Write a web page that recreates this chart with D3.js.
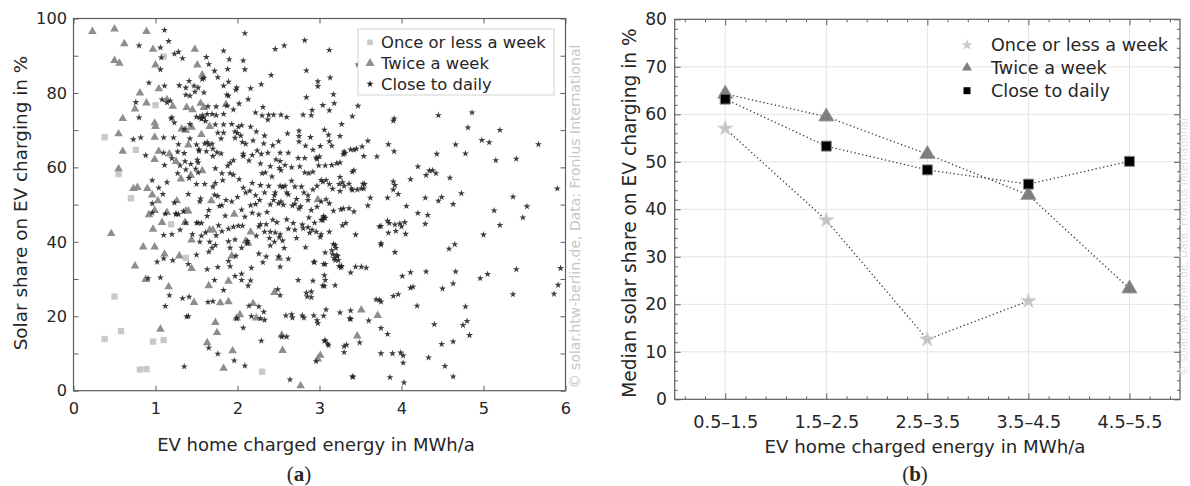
<!DOCTYPE html>
<html>
<head>
<meta charset="utf-8">
<script src="https://cdn.jsdelivr.net/npm/d3@7"></script>
<style>
  html, body { margin: 0; padding: 0; background: #fff; }
  svg { display: block; }
  text { font-family: "DejaVu Sans", Verdana, sans-serif; fill: #262626; }
</style>
</head>
<body>
<svg id="fig" width="1190" height="486"></svg>
<script>
// ---------- (a) individual households: energy [MWh/a], solar share [%] ----------
const onceOrLess = [
  [0.38,68.1],[0.76,64.7],[0.55,58.2],[0.70,51.7],[1.10,89.8],[1.00,76.7],[1.19,44.7],[1.37,35.7],
  [0.50,25.3],[0.58,16.0],[0.38,13.9],[0.97,13.2],[1.10,13.6],[0.81,5.7],[0.89,5.8],[2.30,5.1]
];

const twiceAWeek = [
  [0.23,96.5],[0.50,97.2],[0.89,96.5],[0.62,93.2],[0.50,88.7],[0.56,88.0],[0.97,91.7],[1.00,87.5],
  [1.04,81.1],[0.81,80.0],[0.75,75.7],[0.89,77.3],[0.60,73.1],[1.14,78.2],[1.21,76.4],[1.48,91.7],
  [1.51,87.5],[1.57,84.8],[1.38,76.1],[1.45,75.5],[1.55,77.2],[1.59,76.1],[1.86,76.9],[0.99,71.9],
  [1.00,71.0],[0.55,69.0],[0.99,68.1],[1.32,70.3],[1.37,70.0],[1.44,70.8],[1.66,71.0],[1.56,68.8],
  [1.40,66.0],[1.04,64.3],[1.17,63.6],[0.60,64.3],[0.99,62.1],[1.25,61.6],[0.55,59.6],[1.31,56.9],
  [1.43,57.9],[1.57,59.1],[0.73,54.3],[0.78,54.6],[0.90,54.3],[0.96,52.6],[1.03,51.0],[1.26,51.0],
  [1.68,51.0],[2.98,51.3],[0.46,42.2],[0.97,43.4],[0.92,47.3],[0.99,48.4],[1.08,45.2],[1.14,47.9],
  [1.36,45.2],[1.37,48.3],[1.40,48.3],[1.44,40.5],[1.66,43.2],[1.70,43.2],[1.96,47.4],[2.10,40.2],
  [2.16,42.6],[1.93,36.2],[1.29,36.2],[1.11,36.7],[0.85,38.6],[0.99,38.6],[0.75,33.5],[1.44,32.8],
  [1.65,28.2],[0.88,29.9],[1.16,27.9],[1.89,29.4],[1.47,23.7],[1.79,23.6],[1.89,23.9],[2.19,23.4],
  [2.45,26.4],[1.99,19.5],[2.03,20.4],[2.23,19.5],[3.51,21.7],[3.71,20.2],[1.73,18.3],[1.75,15.6],
  [1.06,16.5],[1.63,12.9],[1.94,10.7],[2.54,14.9],[2.55,10.8],[3.46,14.7],[3.01,9.5],[2.98,8.5],
  [1.83,6.0],[2.77,1.3],[2.51,35.6],[2.13,39.6]
];

const closeToDaily = [
  // above 80 %
  [1.11,96.9],[2.09,96.0],[2.82,94.1],[1.16,93.9],[0.80,92.7],[1.06,92.2],[1.23,90.5],[1.28,91.0],
  [1.33,89.3],[1.07,89.5],[1.06,86.3],[1.62,89.6],[1.65,87.7],[1.72,85.9],[1.76,84.2],[1.83,91.3],
  [1.90,89.0],[1.88,86.4],[2.07,88.7],[2.09,86.3],[0.92,82.7],[1.11,81.9],[1.29,82.0],[1.41,83.2],
  [1.37,81.4],[1.47,81.9],[1.57,83.7],[1.59,84.0],[1.52,81.4],[1.59,80.1],[1.48,80.3],[1.83,81.9],
  [1.89,83.0],[1.99,81.4],[1.98,80.8],[2.16,81.2],[2.29,82.3],[2.41,84.8],[2.57,92.7],[2.46,91.8],
  [2.84,86.0],[3.12,91.5],[2.98,83.1],[2.98,81.8],[3.13,84.1],[3.17,79.6],[3.47,87.6],
  // 70 - 80 %
  [1.37,79.5],[1.42,79.2],[1.89,79.2],[1.87,79.5],[2.13,78.3],[2.84,78.8],[0.76,77.5],[0.80,73.4],
  [1.08,78.2],[1.14,77.4],[1.18,77.9],[1.20,73.4],[1.19,73.1],[1.23,72.0],[1.54,73.4],[1.57,74.0],
  [1.59,73.4],[1.56,73.0],[1.63,74.3],[1.69,74.3],[1.74,74.0],[1.83,74.3],[1.73,71.5],[1.83,71.5],
  [1.64,76.4],[1.74,76.3],[1.87,76.5],[1.95,75.5],[2.02,77.1],[2.22,74.7],[2.30,73.9],[2.31,76.2],
  [2.38,74.1],[2.44,74.1],[2.53,74.1],[2.90,74.0],[3.04,76.7],[3.12,75.3],[3.18,77.2],[3.27,71.6],
  [3.40,73.7],[3.47,76.5],[1.35,70.2],[1.42,71.6],[2.16,70.9],[2.80,74.1],[2.91,75.4],[3.91,73.1],
  [3.90,72.5],[4.45,74.0],[4.86,74.7],[4.81,70.7],[5.20,70.0],[2.05,71.3],[2.01,70.9],[1.93,71.6],
  [1.61,72.4],[1.50,73.6],[2.60,73.5],[2.37,72.8],
  // 60 - 70 %
  [0.73,67.5],[0.82,68.0],[0.88,63.2],[1.10,68.0],[1.10,63.9],[1.11,60.6],[1.76,69.3],[1.83,69.3],
  [1.50,66.1],[1.60,66.4],[1.63,66.7],[1.65,66.1],[1.53,64.8],[1.53,64.4],[1.62,64.3],[1.28,66.2],
  [1.35,63.8],[1.36,61.6],[1.51,62.0],[1.52,61.3],[1.43,60.9],[1.69,66.3],[1.70,65.0],[1.70,63.0],
  [1.75,64.0],[1.80,63.7],[1.88,60.4],[1.91,61.2],[1.95,61.9],[1.97,69.6],[2.00,69.2],[1.97,67.9],
  [2.04,68.5],[2.06,66.8],[2.10,66.3],[2.19,67.2],[2.07,63.6],[2.07,63.0],[2.18,63.3],[2.24,64.5],
  [2.29,63.6],[2.23,69.6],[2.32,66.4],[2.43,65.9],[2.37,63.9],[2.52,63.9],[2.47,62.1],[2.52,61.7],
  [2.62,63.9],[2.74,62.5],[2.82,62.5],[2.96,62.6],[2.61,69.1],[2.75,69.8],[2.75,68.4],[2.75,66.9],
  [2.83,65.8],[3.11,68.7],[3.25,68.4],[3.12,67.0],[3.30,64.2],[3.31,63.8],[3.38,64.8],[3.42,64.7],
  [3.00,62.9],[2.97,62.2],[3.25,61.3],[3.06,70.1],[3.15,65.8],[3.01,65.7],[3.29,63.5],[3.45,65.0],
  [3.52,65.6],[3.59,67.1],[3.54,63.0],[3.70,62.9],[3.84,66.2],[3.91,64.3],[4.66,66.1],[4.98,67.3],
  [5.07,66.7],[5.67,66.2],[4.43,63.6],[4.78,63.7],[5.15,61.9],[5.40,62.3],[2.99,60.5],[3.07,60.5],
  [3.15,60.6],[3.21,61.1],[1.27,64.2],[1.20,62.4],[1.22,68.0],[2.14,61.8],[2.28,61.0],[2.40,60.3],
  [2.58,60.6],[1.80,67.7],[2.33,68.5],[2.50,67.0],[1.42,67.7],[2.89,68.1],[2.92,64.7],
  // 50 - 60 %
  [1.27,58.4],[1.30,60.5],[1.37,59.4],[1.41,57.1],[1.49,59.6],[1.52,58.6],[1.73,59.7],[1.81,58.4],
  [1.91,58.4],[2.34,58.6],[2.30,58.4],[2.51,59.8],[2.53,59.2],[2.66,60.0],[2.76,60.2],[2.87,58.4],
  [2.92,58.8],[2.82,58.6],[3.25,57.4],[3.40,58.8],[3.42,59.2],[3.02,56.6],[3.04,56.1],[3.08,56.6],
  [3.24,55.5],[3.28,56.0],[3.36,55.6],[3.39,54.3],[3.40,53.9],[3.53,55.6],[3.55,55.5],[3.51,54.3],
  [3.54,54.3],[3.90,56.2],[3.92,55.2],[3.90,54.0],[3.83,51.8],[3.96,52.8],[4.11,56.8],[4.20,60.2],
  [4.30,57.9],[4.34,59.1],[4.38,59.2],[4.42,58.4],[4.59,57.2],[4.73,53.0],[5.36,52.1],[5.90,54.3],
  [4.29,51.8],[4.45,51.0],[4.49,52.0],[4.63,50.1],[3.25,53.6],[3.62,51.8],[3.59,49.7],[1.09,52.8],
  [1.40,52.8],[1.23,50.5],[0.96,56.5],[1.14,56.0],[1.04,54.5],[1.60,55.5],[1.70,54.8],[1.72,52.6],
  [1.73,55.8],[1.76,52.3],[1.82,56.5],[1.95,58.0],[2.02,56.8],[2.07,54.5],[2.10,53.2],[2.15,53.7],
  [2.22,52.5],[2.18,55.8],[2.28,55.2],[2.38,55.0],[2.42,57.5],[2.46,53.2],[2.52,55.0],[2.55,54.7],
  [2.58,55.0],[2.60,53.2],[2.66,56.4],[2.70,54.8],[2.78,54.8],[2.81,53.2],[2.86,52.5],[2.92,54.0],
  [2.97,55.0],[3.12,55.5],[3.16,54.2],[3.30,55.0],[3.46,54.0],[2.62,52.7],[2.72,51.5],[2.33,53.2],
  [1.50,55.5],[1.55,51.6],[1.86,51.2],[1.93,50.8],[2.00,52.0],[2.44,51.2],[2.50,50.3],[2.67,49.7],
  [2.70,50.2],[2.86,51.2],[3.02,50.8],[3.08,51.4],[3.12,50.3],[2.22,50.1],[2.27,51.2],[2.40,50.0],
  [2.45,52.5],[2.53,50.8],[2.56,49.9],[1.54,50.8],[2.16,49.8],[1.78,49.6],[1.81,49.8],
  // 40 - 50 %
  [0.96,50.3],[0.96,47.8],[1.12,47.5],[1.25,47.6],[1.25,47.4],[1.28,47.4],[1.50,45.1],[1.52,45.1],
  [1.56,45.0],[1.63,46.9],[1.77,44.4],[1.74,41.7],[1.37,45.1],[1.30,43.2],[1.56,41.6],[1.61,42.5],
  [1.54,40.0],[1.66,40.0],[1.73,39.1],[1.81,42.8],[1.89,43.5],[1.95,44.0],[1.89,40.1],[2.09,46.7],
  [2.06,44.3],[2.01,44.3],[2.23,41.6],[1.97,40.6],[2.12,40.2],[2.12,39.6],[2.26,44.1],[2.28,44.7],
  [2.35,44.7],[2.33,42.7],[2.40,42.7],[2.43,45.9],[2.48,45.2],[2.46,42.5],[2.52,42.0],[2.51,41.2],
  [2.68,45.0],[2.79,44.6],[2.88,42.4],[2.96,42.7],[2.87,46.5],[2.90,48.5],[2.97,49.4],[2.75,48.9],
  [2.77,49.5],[3.26,48.7],[3.29,48.9],[3.36,49.0],[3.04,45.8],[3.07,46.4],[3.05,46.9],[3.01,41.3],
  [2.94,45.1],[3.12,42.7],[3.44,41.9],[3.42,48.1],[3.73,44.1],[3.75,44.2],[3.83,45.6],[3.85,45.0],
  [3.84,42.4],[3.92,44.6],[3.98,44.9],[4.00,44.1],[3.93,42.9],[4.04,45.2],[4.06,49.6],[4.05,42.1],
  [4.20,47.7],[4.32,47.2],[4.29,44.8],[5.00,41.9],[5.13,48.4],[5.20,44.5],[5.48,46.5],[5.53,49.5],
  [2.80,43.6],[2.86,43.9],[2.91,43.2],[3.02,45.9],[3.05,46.5],[3.02,42.0],[3.28,44.4],[3.32,45.0],
  [1.45,42.0],[1.20,42.0],[1.10,41.8],[1.34,48.2],[2.18,47.8],[2.26,47.3],[2.36,48.0],[2.60,46.0],
  [2.62,43.5],[2.70,43.2],[2.55,40.3],[2.45,40.0],[2.39,41.0],[1.85,47.0],[1.65,48.5],[2.05,48.6],
  [3.17,48.3],[2.72,41.0],
  // 30 - 40 %
  [0.91,30.2],[1.02,34.6],[1.10,35.5],[1.06,30.4],[1.65,37.3],[1.69,38.4],[1.63,32.6],[1.72,29.7],
  [1.76,33.2],[1.83,27.0],[1.89,34.8],[1.91,33.4],[1.91,38.4],[2.05,38.4],[2.05,31.4],[2.05,29.7],
  [1.97,30.8],[2.13,28.2],[2.16,29.6],[2.31,34.5],[2.35,36.0],[2.26,36.8],[2.50,36.0],[2.52,33.3],
  [2.62,35.4],[2.83,38.5],[3.05,34.0],[2.94,34.6],[2.74,29.7],[3.17,39.4],[3.20,38.3],[3.21,36.4],
  [3.22,36.1],[3.23,35.0],[3.27,33.5],[3.44,33.3],[3.06,31.0],[3.75,39.6],[3.75,39.2],[3.92,37.2],
  [4.01,30.8],[4.58,38.1],[4.65,39.3],[4.96,30.2],[5.05,31.3],[5.40,32.6],[5.94,32.9],[2.92,29.5],
  [3.07,29.7],[3.04,28.2],[3.19,28.3],[3.38,31.7],[3.51,33.3],[3.57,33.0],[2.93,34.5],[3.07,34.0],
  [3.07,37.1],[3.15,37.7],[3.16,36.6],[3.18,35.6],[3.19,35.1],[3.24,33.5],[3.26,33.1],[3.19,39.1],
  [1.50,36.5],[1.40,34.0],[2.40,39.0],[2.57,38.3],[1.21,35.0],[4.11,31.8],[4.30,32.0],[4.66,32.0],
  [1.98,36.2],[2.17,33.0],
  // 20 - 30 %
  [1.12,22.7],[1.17,25.6],[1.33,24.8],[1.41,25.2],[1.64,23.8],[2.52,25.6],[2.49,27.2],[2.84,26.3],
  [2.90,25.1],[3.06,28.1],[2.85,25.3],[2.90,26.6],[3.69,24.5],[3.73,24.4],[3.75,23.9],[3.90,25.4],
  [3.96,25.9],[4.19,22.8],[4.11,27.6],[4.14,27.9],[4.78,22.6],[5.36,25.9],[5.86,26.0],[5.91,28.4],
  [4.63,28.8],[4.50,27.4],[1.38,19.9],[2.17,20.0],[2.28,19.4],[2.33,19.0],[2.26,22.6],[2.59,20.2],
  [2.67,19.6],[2.81,19.6],[2.93,20.2],[3.05,20.1],[3.08,21.8],[3.25,21.0],[2.79,20.2],[1.99,19.4],
  [1.70,24.0],[2.32,21.2],[3.38,21.5],[2.14,22.8],
  // below 20 %
  [1.65,11.5],[1.76,9.9],[1.35,6.5],[1.96,8.1],[2.07,16.9],[2.09,6.7],[2.29,13.4],[2.60,14.5],
  [2.64,3.0],[2.96,7.9],[2.97,18.9],[2.98,18.1],[3.10,12.6],[3.07,13.5],[3.40,3.8],[3.30,11.9],
  [3.33,12.3],[3.37,19.4],[3.38,19.2],[3.30,10.3],[3.49,12.9],[3.60,18.8],[3.75,16.8],[3.83,15.2],
  [3.99,10.2],[4.02,9.4],[4.02,7.5],[4.03,2.2],[3.89,10.0],[3.75,10.0],[3.86,3.6],[3.41,3.7],
  [4.49,12.5],[4.63,13.2],[4.40,17.8],[4.75,17.6],[4.80,18.7],[4.83,14.9],[4.33,8.9],[4.53,6.6],
  [4.63,3.8],[2.66,20.5],[3.06,13.4],[3.11,12.2],[2.54,14.5],[1.40,20.0]
];

// ---------- (b) medians per energy bin ----------
const energyBins = ["0.5–1.5", "1.5–2.5", "2.5–3.5", "3.5–4.5", "4.5–5.5"];
const medianOnce  = [57.0, 37.7, 12.6, 20.7];
const medianTwice = [64.3, 59.5, 51.6, 43.0, 23.3];
const medianDaily = [63.2, 53.3, 48.3, 45.3, 50.1];

const seriesNames = ["Once or less a week", "Twice a week", "Close to daily"];
const xTicksA = [0, 1, 2, 3, 4, 5, 6];
const yTicksA = d3.range(0, 101, 10);
const yTicksB = d3.range(0, 81, 10);

const svg = d3.select("#fig");
const frameColor = "#5e5e5e";
const textColor = "#262626";

function styleAxis(g) {
  g.select(".domain").remove();
  g.selectAll(".tick line").attr("stroke", frameColor).attr("stroke-width", 1);
  g.selectAll(".tick text").attr("fill", textColor);
  g.attr("font-family", null);
}

// ======================= panel (a) =======================
const xA = d3.scaleLinear().domain([0, 6]).range([73.5, 565.5]);
const yA = d3.scaleLinear().domain([0, 100]).range([390.7, 18.5]);
const pa = svg.append("g");

pa.append("g").attr("transform", `translate(0,${yA(0)})`)
  .call(d3.axisBottom(xA).tickValues(xTicksA).tickSize(-5).tickPadding(11.5).tickFormat(d3.format("d")))
  .call(styleAxis).attr("font-size", 16.2);
pa.append("g").attr("transform", `translate(0,${yA(100)})`)
  .call(d3.axisTop(xA).tickValues(xTicksA).tickSize(-5).tickFormat(""))
  .call(styleAxis);
pa.append("g").attr("transform", `translate(${xA(0)},0)`)
  .call(d3.axisLeft(yA).tickValues(yTicksA).tickSize(-5).tickPadding(6.5)
    .tickFormat(d => d % 20 === 0 ? d : ""))
  .call(styleAxis).attr("font-size", 16.2);
pa.append("g").attr("transform", `translate(${xA(6)},0)`)
  .call(d3.axisRight(yA).tickValues(yTicksA).tickSize(-5).tickFormat(""))
  .call(styleAxis);

pa.append("rect")
  .attr("x", xA(0)).attr("y", yA(100))
  .attr("width", xA(6) - xA(0)).attr("height", yA(0) - yA(100))
  .attr("fill", "none").attr("stroke", frameColor).attr("stroke-width", 1.2);

const symSquareA = d3.symbol().type(d3.symbolSquare).size(40);
const symTriA = d3.symbol().type(d3.symbolTriangle).size(32);
const symStarA = d3.symbol().type(d3.symbolStar).size(15);

pa.append("g").selectAll("path").data(onceOrLess).join("path")
  .attr("d", symSquareA)
  .attr("transform", d => `translate(${xA(d[0])},${yA(d[1])})`)
  .attr("fill", "#c9c9c9");
pa.append("g").selectAll("path").data(twiceAWeek).join("path")
  .attr("d", symTriA)
  .attr("transform", d => `translate(${xA(d[0])},${yA(d[1])})`)
  .attr("fill", "#8e8e8e");
pa.append("g").selectAll("path").data(closeToDaily).join("path")
  .attr("d", symStarA)
  .attr("transform", d => `translate(${xA(d[0])},${yA(d[1])})`)
  .attr("fill", "#1c1c1c").attr("fill-opacity", 0.85);

// legend (a)
const legA = pa.append("g");
legA.append("rect").attr("x", 358).attr("y", 29).attr("width", 196).attr("height", 66)
  .attr("fill", "#fff").attr("stroke", "#d2d2d2").attr("stroke-width", 1);
const legARows = [42.3, 63.3, 84];
const legASyms = [
  d3.symbol().type(d3.symbolSquare).size(32)(),
  d3.symbol().type(d3.symbolTriangle).size(36)(),
  d3.symbol().type(d3.symbolStar).size(15)()
];
const legAFill = ["#c9c9c9", "#8e8e8e", "#1c1c1c"];
seriesNames.forEach((name, i) => {
  legA.append("path").attr("d", legASyms[i])
    .attr("transform", `translate(370,${legARows[i]})`).attr("fill", legAFill[i]);
  legA.append("text").attr("x", 381).attr("y", legARows[i]).attr("dy", "0.36em")
    .attr("font-size", 16.4).text(name);
});

// axis titles (a)
pa.append("text").attr("x", 316).attr("y", 445).attr("dy", "0.36em")
  .attr("text-anchor", "middle").attr("font-size", 18).text("EV home charged energy in MWh/a");
pa.append("text").attr("transform", "translate(20,203) rotate(-90)").attr("dy", "0.36em")
  .attr("text-anchor", "middle").attr("font-size", 18.4).text("Solar share on EV charging in %");
pa.append("text").attr("transform", "translate(575,216.5) rotate(-90)").attr("dy", "0.36em")
  .attr("text-anchor", "middle").attr("font-size", 14).style("fill", "#c6c6c6")
  .text("© solar.htw-berlin.de, Data: Fronius International");

// ======================= panel (b) =======================
const xB = d3.scaleLinear().domain([0.5, 5.5]).range([674.7, 1180]);
const yB = d3.scaleLinear().domain([0, 80]).range([399.3, 19.3]);
const pb = svg.append("g");
const catPos = energyBins.map((_, i) => i + 1);
const xMinorB = d3.range(0.6, 5.5, 0.2).filter(v => Math.abs(v - Math.round(v)) > 0.05);
const yMinorB = d3.range(0, 81, 2).filter(v => v % 10 !== 0);

// grid
pb.append("g").selectAll("line").data(yTicksB.filter(v => v > 0 && v < 80)).join("line")
  .attr("x1", xB(0.5)).attr("x2", xB(5.5)).attr("y1", d => yB(d)).attr("y2", d => yB(d))
  .attr("stroke", "#e4e4e4").attr("stroke-width", 1);
pb.append("g").selectAll("line").data(catPos).join("line")
  .attr("x1", d => xB(d)).attr("x2", d => xB(d)).attr("y1", yB(0)).attr("y2", yB(80))
  .attr("stroke", "#e4e4e4").attr("stroke-width", 1);

// minor ticks, all four sides
pb.append("g").attr("transform", `translate(0,${yB(0)})`)
  .call(d3.axisBottom(xB).tickValues(xMinorB).tickSize(-3).tickFormat("")).call(styleAxis);
pb.append("g").attr("transform", `translate(0,${yB(80)})`)
  .call(d3.axisTop(xB).tickValues(xMinorB).tickSize(-3).tickFormat("")).call(styleAxis);
pb.append("g").attr("transform", `translate(${xB(0.5)},0)`)
  .call(d3.axisLeft(yB).tickValues(yMinorB).tickSize(-3).tickFormat("")).call(styleAxis);
pb.append("g").attr("transform", `translate(${xB(5.5)},0)`)
  .call(d3.axisRight(yB).tickValues(yMinorB).tickSize(-3).tickFormat("")).call(styleAxis);

// major ticks and labels
pb.append("g").attr("transform", `translate(0,${yB(0)})`)
  .call(d3.axisBottom(xB).tickValues(catPos).tickSize(-6).tickPadding(16)
    .tickFormat((d, i) => energyBins[i]))
  .call(styleAxis).attr("font-size", 17.6);
pb.append("g").attr("transform", `translate(0,${yB(80)})`)
  .call(d3.axisTop(xB).tickValues(catPos).tickSize(-6).tickFormat("")).call(styleAxis);
pb.append("g").attr("transform", `translate(${xB(0.5)},0)`)
  .call(d3.axisLeft(yB).tickValues(yTicksB).tickSize(-6).tickPadding(7.7).tickFormat(d3.format("d")))
  .call(styleAxis).attr("font-size", 17.2);
pb.append("g").attr("transform", `translate(${xB(5.5)},0)`)
  .call(d3.axisRight(yB).tickValues(yTicksB).tickSize(-6).tickFormat("")).call(styleAxis);

pb.append("rect")
  .attr("x", xB(0.5)).attr("y", yB(80))
  .attr("width", xB(5.5) - xB(0.5)).attr("height", yB(0) - yB(80))
  .attr("fill", "none").attr("stroke", frameColor).attr("stroke-width", 1.2);

// dotted connectors
const lineB = d3.line().x((d, i) => xB(i + 1)).y(d => yB(d));
[medianOnce, medianTwice, medianDaily].forEach(s => {
  pb.append("path").attr("d", lineB(s))
    .attr("fill", "none").attr("stroke", "#3a3a3a").attr("stroke-width", 1.3)
    .attr("stroke-dasharray", "1.3,2.6");
});

// markers
const symStarB = d3.symbol().type(d3.symbolStar).size(72);
const symTriB = d3.symbol().type(d3.symbolTriangle).size(100);
const symSqB = d3.symbol().type(d3.symbolSquare).size(100);
pb.append("g").selectAll("path").data(medianOnce).join("path")
  .attr("d", symStarB).attr("transform", (d, i) => `translate(${xB(i + 1)},${yB(d)})`)
  .attr("fill", "#c4c4c4").attr("stroke", "#d4d4d4").attr("stroke-width", 0.8);
pb.append("g").selectAll("path").data(medianTwice).join("path")
  .attr("d", symTriB).attr("transform", (d, i) => `translate(${xB(i + 1)},${yB(d)})`)
  .attr("fill", "#7e7e7e").attr("stroke", "#9a9a9a").attr("stroke-width", 0.8);
pb.append("g").selectAll("path").data(medianDaily).join("path")
  .attr("d", symSqB).attr("transform", (d, i) => `translate(${xB(i + 1)},${yB(d)})`)
  .attr("fill", "#000").attr("stroke", "#8a8a8a").attr("stroke-width", 1);

// legend (b)
const legBRows = [45, 67.7, 90.7];
const legBSyms = [
  d3.symbol().type(d3.symbolStar).size(40)(),
  d3.symbol().type(d3.symbolTriangle).size(44)(),
  d3.symbol().type(d3.symbolSquare).size(49)()
];
const legBFill = ["#c8c8c8", "#7e7e7e", "#000"];
seriesNames.forEach((name, i) => {
  pb.append("path").attr("d", legBSyms[i])
    .attr("transform", `translate(967,${legBRows[i]})`).attr("fill", legBFill[i]);
  pb.append("text").attr("x", 991).attr("y", legBRows[i]).attr("dy", "0.36em")
    .attr("font-size", 17.6).text(name);
});

// axis titles (b)
pb.append("text").attr("x", 925).attr("y", 446).attr("dy", "0.36em")
  .attr("text-anchor", "middle").attr("font-size", 18.2).text("EV home charged energy in MWh/a");
pb.append("text").attr("transform", "translate(629,213) rotate(-90)").attr("dy", "0.36em")
  .attr("text-anchor", "middle").attr("font-size", 18.6).text("Median solar share on EV charging in %");
pb.append("text").attr("transform", "translate(1183.6,247) rotate(-90)").attr("dy", "0.3em")
  .attr("text-anchor", "middle").attr("font-size", 10.5).style("fill", "#e0e0e0")
  .text("© solar.htw-berlin.de, Data: Fronius International");

// sub-figure captions
[["a", 299], ["b", 915]].forEach(([letter, cx]) => {
  const t = svg.append("text").attr("x", cx).attr("y", 473).attr("dy", "0.36em")
    .attr("text-anchor", "middle").attr("font-size", 21)
    .style("font-family", "'Liberation Serif', 'Times New Roman', serif");
  t.append("tspan").text("(");
  t.append("tspan").attr("font-weight", "bold").text(letter);
  t.append("tspan").text(")");
});
</script>
</body>
</html>
